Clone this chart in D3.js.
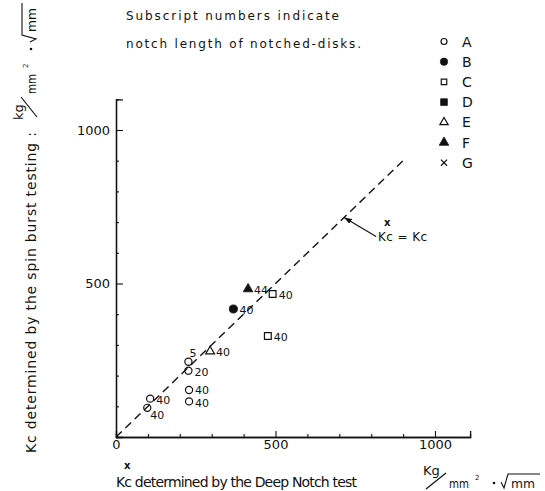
<!DOCTYPE html>
<html><head><meta charset="utf-8">
<script src="https://cdn.jsdelivr.net/npm/d3@7"></script>
<style>
html,body{margin:0;padding:0;background:#fff;}
svg{display:block;}
text{font-family:"DejaVu Sans",sans-serif;fill:#111;}
</style></head><body>
<svg id="chart" width="545" height="491"></svg>
<script>
// Kc (kg/mm²·√mm): Deep Notch test vs. spin burst test of notched disks
const materials = ["A", "B", "C", "D", "E", "F", "G"];
const specimenMaterial = ["A", "A", "A", "A", "A", "A", "B", "C", "C", "E", "F"];
const deepNotchKc = [98, 107, 229, 229, 227, 227, 368, 491, 476, 295, 414];
const spinBurstKc = [95, 125, 116, 153, 216, 245, 417, 466, 329, 279, 482];
const notchLength = ["40", "40", "40", "40", "20", "5", "40", "40", "40", "40", "44"];
const majorTicks = [0, 500, 1000];
const minorTicks = [100, 200, 300, 400, 600, 700, 800, 900];
const equalityLine = [0, 910];
const arrowAt = 715;

const svg = d3.select("#chart");
const ink = "#111";

const x = d3.scaleLinear().domain([0, 1110]).range([116, 116 + 0.319 * 1110]);
const y = d3.scaleLinear().domain([0, 1100]).range([437, 437 - 0.307 * 1100]);

// marker look for each material
const markerType = {
  A: [d3.symbolCircle, false], B: [d3.symbolCircle, true],
  C: [d3.symbolSquare, false], D: [d3.symbolSquare, true],
  E: [d3.symbolTriangle, false], F: [d3.symbolTriangle, true],
  G: [d3.symbolX, false]
};
const plotSize = {A: 40, B: 52, C: 46, D: 50, E: 34, F: 40, G: 30};
const legendSize = {A: 28, B: 42, C: 30, D: 44, E: 30, F: 40, G: 26};

function drawMarker(g, m, size) {
  const [type, filled] = markerType[m];
  g.append("path")
    .attr("d", d3.symbol().type(type).size(size)())
    .attr("fill", filled ? ink : "none")
    .attr("stroke", ink)
    .attr("stroke-width", filled ? 0.8 : 1.2);
}

// ---- axes ----
const xMajor = d3.axisBottom(x).tickValues(majorTicks).tickSize(-6).tickPadding(3).tickFormat(d3.format("d"));
const xMinor = d3.axisBottom(x).tickValues(minorTicks).tickSize(-3).tickFormat("");
const yMajor = d3.axisLeft(y).tickValues([500, 1000]).tickSize(-7).tickPadding(6).tickFormat(d3.format("d"));
const yMinor = d3.axisLeft(y).tickValues(minorTicks).tickSize(-3).tickFormat("");

function styleAxis(g) {
  g.selectAll("path.domain").attr("stroke", ink).attr("stroke-width", 1.3);
  g.selectAll("line").attr("stroke", ink).attr("stroke-width", 1.1);
  g.selectAll("text").attr("font-family", "DejaVu Sans, sans-serif").attr("font-size", 13).attr("fill", ink);
}
svg.append("g").attr("transform", `translate(0,${y(0)})`).call(xMinor).call(styleAxis);
svg.append("g").attr("transform", `translate(0,${y(0)})`).call(xMajor).call(styleAxis);
svg.append("g").attr("transform", `translate(${x(0)},0)`).call(yMinor).call(styleAxis);
svg.append("g").attr("transform", `translate(${x(0)},0)`).call(yMajor).call(styleAxis);

// ---- Kc = Kc reference line ----
svg.append("line")
  .attr("x1", x(equalityLine[0])).attr("y1", y(equalityLine[0]))
  .attr("x2", x(equalityLine[1])).attr("y2", y(equalityLine[1]))
  .attr("stroke", ink).attr("stroke-width", 1.4).attr("stroke-dasharray", "8,5");

// annotation arrow pointing at the line
svg.append("defs").append("marker")
  .attr("id", "head").attr("viewBox", "0 0 10 10").attr("refX", 10).attr("refY", 5)
  .attr("markerWidth", 7).attr("markerHeight", 7).attr("orient", "auto")
  .append("path").attr("d", "M0,1.5L10,5L0,8.5Z").attr("fill", ink);
const tipX = x(arrowAt), tipY = y(arrowAt);
svg.append("line")
  .attr("x1", tipX + 32).attr("y1", tipY + 19)
  .attr("x2", tipX).attr("y2", tipY)
  .attr("stroke", ink).attr("stroke-width", 1.1).attr("marker-end", "url(#head)");
svg.append("text").attr("x", tipX + 34).attr("y", tipY + 24)
  .attr("font-size", 12).attr("textLength", 49).attr("lengthAdjust", "spacing").text("Kc = Kc");
svg.append("text").attr("x", tipX + 40).attr("y", tipY + 9)
  .attr("font-size", 10).attr("font-weight", "bold").text("x");

// ---- data points ----
// notch-length labels sit just right of the marker; a few are nudged to stay clear of neighbours
const labelNudge = {0: [-3, 6], 2: [0, 1], 3: [0, -1.5], 5: [-5, -10]};
const pts = svg.append("g");
deepNotchKc.forEach((dx, i) => {
  const g = pts.append("g").attr("transform", `translate(${x(dx)},${y(spinBurstKc[i])})`);
  drawMarker(g, specimenMaterial[i], plotSize[specimenMaterial[i]]);
  const [nx, ny] = labelNudge[i] || [0, 0];
  g.append("text")
    .attr("x", 6 + nx)
    .attr("y", 5 + ny)
    .attr("font-size", 11)
    .text(notchLength[i]);
});

// ---- legend ----
const legendY = d3.scalePoint().domain(materials).range([41.5, 162.7]);
materials.forEach(m => {
  const g = svg.append("g").attr("transform", `translate(444,${legendY(m)})`);
  drawMarker(g, m, legendSize[m]);
  g.append("text").attr("x", 18).attr("y", 5).attr("font-size", 14).text(m);
});

// ---- note ----
svg.append("text").attr("x", 126).attr("y", 20).attr("font-size", 12)
  .attr("textLength", 213).attr("lengthAdjust", "spacing").text("Subscript numbers indicate");
svg.append("text").attr("x", 126).attr("y", 48).attr("font-size", 12)
  .attr("textLength", 235).attr("lengthAdjust", "spacing").text("notch length of notched-disks.");

// ---- unit  kg/mm²·√mm  (drawn in local coordinates of g) ----
function drawUnit(g, cap) {
  g.append("text").attr("x", 0).attr("y", -13).attr("font-size", 13).text(cap);
  g.append("line").attr("x1", 3).attr("y1", 1).attr("x2", 23).attr("y2", -15)
    .attr("stroke", ink).attr("stroke-width", 1.2);
  g.append("text").attr("x", 26).attr("y", 0).attr("font-size", 13)
    .attr("textLength", 20).attr("lengthAdjust", "spacingAndGlyphs").text("mm");
  g.append("text").attr("x", 52).attr("y", -8).attr("font-size", 7).text("2");
  g.append("circle").attr("cx", 71).attr("cy", -5).attr("r", 1.3).attr("fill", ink);
  g.append("path").attr("d", "M78,-6L81,0L85,-14L117,-14")
    .attr("fill", "none").attr("stroke", ink).attr("stroke-width", 1.1);
  g.append("text").attr("x", 88).attr("y", 0).attr("font-size", 13)
    .attr("textLength", 24).attr("lengthAdjust", "spacingAndGlyphs").text("mm");
}

// x-axis title
svg.append("text").attr("x", 116).attr("y", 487).attr("font-size", 14)
  .attr("textLength", 241).attr("lengthAdjust", "spacing").text("Kc determined by the Deep Notch test");
svg.append("text").attr("x", 124).attr("y", 469).attr("font-size", 10).attr("font-weight", "bold").text("x");
drawUnit(svg.append("g").attr("transform", "translate(423,488)"), "Kg");

// y-axis title
const yt = svg.append("g").attr("transform", "translate(36,453) rotate(-90)");
yt.append("text").attr("x", 0).attr("y", 0).attr("font-size", 14)
  .attr("textLength", 321).attr("lengthAdjust", "spacing").text("Kc determined by the spin burst testing :");
drawUnit(yt.append("g").attr("transform", "translate(333,0)"), "kg");
</script>
</body></html>
